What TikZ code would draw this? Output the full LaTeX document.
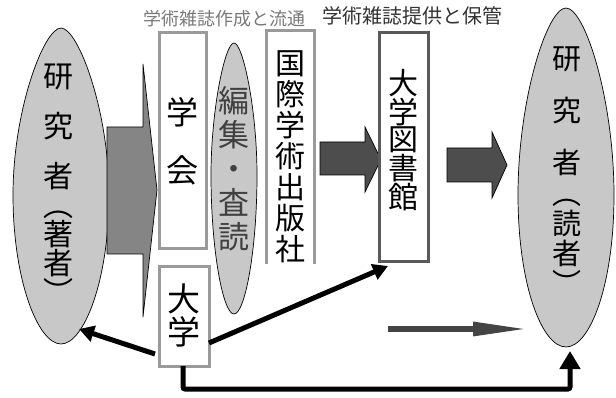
\documentclass[tikz,border=0pt]{standalone}
\usepackage{fontspec}
\setmainfont{Noto Sans CJK JP}
\usetikzlibrary{arrows.meta}
\definecolor{eggfill}{HTML}{C8C8C8}
\definecolor{boxgray}{HTML}{9A9A9A}
\definecolor{libgray}{HTML}{5A5A5A}
\definecolor{bigarrow}{HTML}{858585}
\definecolor{darkarrow}{HTML}{4D4D4D}
\definecolor{thinarrow}{HTML}{444444}
\tikzset{
  egg/.style={fill=eggfill,draw=black,line width=0.7pt},
  blockarrow/.style={draw=black,line width=0.7pt},
  graybox/.style={draw=boxgray,line width=3pt,fill=white},
  libbox/.style={draw=libgray,line width=3pt,fill=white},
  vtext/.style={inner sep=0pt,align=center,text=black},
  fat/.style={line width=5pt,draw=black,-{Triangle[length=15pt,width=16pt]}},
}
\begin{document}
\begin{tikzpicture}[x=1pt,y=-1pt]
\useasboundingbox (0,0) rectangle (616,398);
% left egg
\path[egg] (61,28) .. controls (78,28) and (109,110) .. (109,195)
  .. controls (109,280) and (84,344) .. (61,344)
  .. controls (38,344) and (13,280) .. (13,195)
  .. controls (13,110) and (44,28) .. (61,28) -- cycle;
% right egg
\path[egg] (566,8) .. controls (585,8) and (614,100) .. (614,195)
  .. controls (614,285) and (590,347) .. (566,347)
  .. controls (542,347) and (518,285) .. (518,195)
  .. controls (518,100) and (547,8) .. (566,8) -- cycle;
% editing egg
\path[egg] (234,43) .. controls (243,43) and (257,110) .. (257,175)
  .. controls (257,250) and (245,314) .. (234,314)
  .. controls (223,314) and (211,250) .. (211,175)
  .. controls (211,110) and (225,43) .. (234,43) -- cycle;
% block arrows
\path[blockarrow,fill=bigarrow] (107,127) -- (143,127) -- (143,64) -- (157,190)
  -- (143,317) -- (143,254) -- (107,254) -- cycle;
\path[blockarrow,fill=darkarrow] (320,142) -- (365,142) -- (365,127) -- (381,159.5)
  -- (365,192) -- (365,175) -- (320,175) -- cycle;
\path[blockarrow,fill=darkarrow] (447,148) -- (492,148) -- (492,132) -- (507,165)
  -- (492,198) -- (492,182) -- (447,182) -- cycle;
% boxes
\node[graybox,minimum width=47pt,minimum height=216pt,inner sep=0pt] (gakkai) at (182.5,141) {};
\node[graybox,minimum width=50pt,minimum height=99pt,inner sep=0pt] (daigaku) at (184,316.5) {};
\node[libbox,minimum width=49pt,minimum height=229pt,inner sep=0pt] (lib) at (403.5,147.5) {};
\node[inner sep=0pt,minimum width=47pt,minimum height=233pt] (pub) at (290.5,147.5) {};
\draw[boxgray,line width=3pt] (pub.south west) -- (pub.north west) -- (pub.north east) -- (pub.south east);
% texts
\node[vtext,font=\fontsize{18}{20}\selectfont,text=gray!95!black] (lab1) at (224,19) {学術雑誌作成と流通};
\node[vtext,font=\fontsize{20}{22}\selectfont,text=black!80] (lab2) at (412,16) {学術雑誌提供と保管};
\node[vtext,font=\fontsize{30}{50}\selectfont] (resL) at (58,127) {研\\究\\者};
\node[vtext,font=\fontsize{30}{29}\selectfont] (autL) at (58,257.5) {︵\\著\\者\\︶};
\node[vtext,font=\fontsize{29}{52}\selectfont] (resR) at (567,111) {研\\究\\者};
\node[vtext,font=\fontsize{29}{30}\selectfont] (rdR) at (567,247) {︵\\読\\者\\︶};
\node[vtext,font=\fontsize{32}{58}\selectfont] (tgak) at (gakkai) {学\\会};
\node[vtext,font=\fontsize{31}{34}\selectfont,text=black!75] (tedit) at (234,169) {編\\集\\・\\査\\読};
\node[vtext,font=\fontsize{30}{31}\selectfont] (tpub) at (290,157) {国\\際\\学\\術\\出\\版\\社};
\node[vtext,font=\fontsize{30}{27.5}\selectfont] (tlib) at (403,140) {大\\学\\図\\書\\館};
\node[vtext,font=\fontsize{33}{33}\selectfont] (tdg) at (184,315) {大\\学};
% connectors
\coordinate (dgA) at (155,354);
\coordinate (eggLtip) at (79,329);
\coordinate (dgB) at (209,343);
\coordinate (libtip) at (388,266);
\coordinate (dgC) at (183,366);
\coordinate (eggRtip) at (570,351);
\coordinate (grayS) at (388,329);
\coordinate (grayE) at (529,329);
\draw[fat] (dgA) -- (eggLtip);
\draw[fat] (dgB) -- (libtip);
\draw[line width=5pt,rounded corners=2pt,-{Triangle[length=18pt,width=20pt]}] (dgC) -- (dgC |- 0,389) -- (eggRtip |- 0,389) -- (eggRtip);
\draw[line width=6pt,draw=thinarrow,-{Triangle[length=56pt,width=13pt,fill=thinarrow]}] (grayS) -- (grayE);
\end{tikzpicture}
\end{document}
